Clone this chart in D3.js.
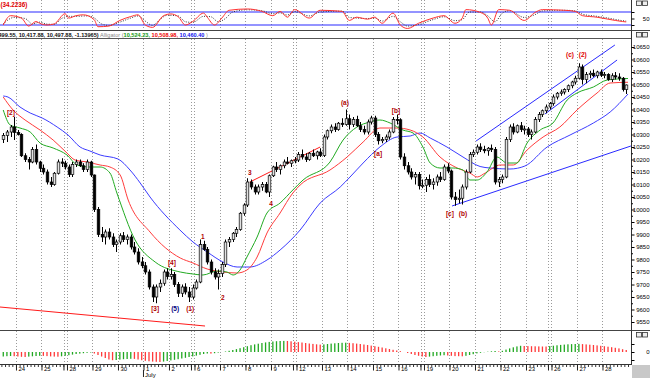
<!DOCTYPE html>
<meta charset="utf-8">
<title>DJIA hourly - Alligator</title>
<style>
body { margin: 0; background: #fff; }
svg { display: block; font-family: "Liberation Sans", Arial, sans-serif; }
</style>
<body>
<svg id="chart" width="650" height="378"></svg>
</body>
<script src="https://cdn.jsdelivr.net/npm/d3@7"></script>
<script>

// day labels on the time ruler (first 4 bars belong to Jun 23)
var dayLabels = ["24","25","28","29","30","1","2","6","7","8","9","12","13","14","15","16","19","20","21","22","23","26","27","28"];
var mondays = [2, 7, 11, 16, 21];

// hourly candles
var opens = [
  10280,10296,10310,10330,10308,10300,10215,10200,10190,10240,
  10190,10165,10150,10110,10100,10145,10190,10185,10170,10140,
  10180,10190,10175,10160,10190,10138,10000,9900,9890,9910,
  9890,9860,9870,9895,9880,9890,9850,9830,9790,9775,
  9750,9690,9650,9690,9705,9750,9732,9740,9700,9665,
  9690,9670,9650,9686,9710,9860,9840,9790,9750,9730,
  9744,9780,9870,9880,9905,9920,9985,10018,10110,10090,
  10070,10090,10100,10070,10135,10170,10160,10175,10190,10185,
  10195,10198,10220,10210,10200,10225,10215,10230,10216,10290,
  10315,10330,10320,10345,10340,10363,10340,10360,10335,10320,
  10310,10350,10366,10300,10275,10280,10290,10310,10360,10359,
  10210,10175,10150,10130,10140,10095,10097,10120,10100,10110,
  10130,10120,10170,10154,10050,10040,10045,10090,10150,10220,
  10229,10250,10240,10235,10245,10240,10110,10120,10130,10280,
  10330,10310,10335,10320,10322,10300,10310,10360,10380,10395,
  10410,10424,10450,10465,10470,10480,10495,10510,10525,10570,
  10520,10540,10545,10535,10550,10537,10540,10520,10535,10530,
  10525,10480];
var highs = [
  10306,10318,10338,10370,10318,10305,10225,10210,10250,10260,
  10195,10180,10160,10130,10150,10200,10205,10195,10180,10190,
  10200,10200,10185,10200,10195,10140,10010,9930,9920,9925,
  9905,9880,9905,9910,9900,9900,9870,9845,9810,9790,
  9760,9700,9700,9720,9760,9765,9765,9750,9710,9700,
  9705,9690,9700,9720,9880,9875,9850,9800,9765,9760,
  9790,9880,9890,9910,9930,9990,10025,10125,10120,10100,
  10100,10110,10110,10140,10175,10190,10180,10200,10210,10200,
  10210,10230,10240,10225,10230,10240,10235,10245,10300,10320,
  10340,10345,10350,10365,10400,10380,10370,10375,10350,10335,
  10360,10375,10375,10310,10290,10300,10320,10370,10380,10365,
  10225,10190,10165,10150,10150,10120,10130,10140,10125,10140,
  10150,10180,10185,10160,10070,10080,10100,10160,10230,10240,
  10260,10265,10255,10250,10260,10250,10130,10140,10290,10340,
  10345,10340,10350,10335,10330,10320,10370,10390,10400,10420,
  10430,10460,10470,10480,10485,10500,10515,10535,10585,10580,
  10550,10555,10560,10555,10560,10550,10545,10545,10550,10545,
  10530,10500];
var lows = [
  10266,10270,10290,10278,10296,10210,10190,10160,10185,10180,
  10150,10140,10100,10090,10095,10140,10170,10160,10130,10130,
  10170,10170,10150,10150,10130,9990,9890,9870,9860,9880,
  9850,9830,9860,9870,9860,9840,9820,9780,9765,9740,
  9680,9630,9625,9670,9695,9720,9720,9690,9650,9650,
  9660,9630,9640,9680,9705,9835,9780,9740,9720,9680,
  9730,9770,9850,9870,9890,9915,9975,10010,10080,10060,
  10060,10075,10065,10050,10130,10150,10140,10165,10180,10170,
  10185,10190,10200,10190,10195,10210,10200,10210,10210,10280,
  10305,10310,10315,10330,10335,10320,10330,10330,10310,10300,
  10300,10340,10290,10260,10265,10270,10280,10305,10340,10200,
  10160,10140,10120,10100,10080,10085,10070,10090,10080,10095,
  10110,10115,10145,10040,10015,10025,10020,10080,10145,10210,
  10220,10230,10225,10215,10230,10100,10090,10105,10125,10270,
  10300,10305,10310,10300,10290,10280,10305,10350,10370,10385,
  10400,10415,10440,10455,10460,10470,10485,10500,10520,10500,
  10505,10525,10530,10525,10530,10525,10515,10510,10520,10515,
  10472,10462];
var closes = [
  10296,10310,10330,10308,10300,10215,10200,10190,10240,10190,
  10165,10150,10110,10100,10145,10190,10185,10170,10140,10180,
  10190,10175,10160,10190,10138,10000,9900,9890,9910,9890,
  9860,9870,9895,9880,9890,9850,9830,9790,9775,9750,
  9690,9650,9690,9705,9750,9732,9740,9700,9665,9690,
  9670,9650,9686,9710,9860,9840,9790,9750,9730,9744,
  9780,9870,9880,9905,9920,9985,10018,10110,10090,10070,
  10090,10100,10070,10135,10170,10160,10175,10190,10185,10195,
  10198,10220,10210,10200,10225,10215,10230,10216,10290,10315,
  10330,10320,10345,10340,10363,10340,10360,10335,10320,10310,
  10350,10366,10300,10275,10280,10290,10310,10360,10359,10210,
  10175,10150,10130,10140,10095,10097,10120,10100,10110,10130,
  10120,10170,10154,10050,10040,10045,10090,10150,10220,10229,
  10250,10240,10235,10245,10240,10110,10120,10130,10280,10330,
  10310,10335,10320,10322,10300,10310,10360,10380,10395,10410,
  10424,10450,10465,10470,10480,10495,10510,10525,10570,10520,
  10540,10545,10535,10550,10537,10540,10520,10535,10530,10525,
  10480,10498];

// alligator lines, [bar, price]
var jaw = [[0,10454],[1.3,10450],[4.6,10410],[7.4,10386],[10.7,10366],[14.8,10330],[17.8,10298],[21.1,10250],[23.8,10234],[26.6,10218],[31.5,10202],[34.8,10158],[37.6,10106],[40.3,10050],[48.5,9918],[52.1,9870],[56,9830],[60.3,9790],[64.2,9770],[67.7,9770],[72.4,9798],[76,9838],[81.5,9918],[87,10026],[92.5,10090],[95.2,10130],[98.8,10186],[103.4,10250],[108.1,10290],[111.7,10294],[114.4,10306],[117.2,10286],[121.8,10250],[126.2,10210],[130.9,10172],[133.6,10166],[139.1,10162],[143.2,10174],[149.3,10250],[155.6,10298],[162,10346],[166.6,10390],[171.5,10462]];
var teeth = [[0,10450],[2.7,10398],[6,10358],[10.1,10318],[13.7,10278],[17.5,10226],[19.7,10198],[23,10190],[26.6,10178],[29.3,10170],[32.1,10138],[34.3,10038],[40.3,9910],[48.6,9806],[52.1,9786],[56,9762],[60.3,9750],[64.2,9746],[66.9,9758],[69.7,9810],[72.4,9906],[76,9986],[79.5,10066],[81.5,10098],[89.7,10158],[94.4,10210],[98.8,10270],[103.4,10326],[108.1,10326],[111.7,10318],[115.2,10290],[119.9,10210],[124.6,10166],[128.1,10146],[130.1,10130],[132.3,10146],[136.4,10178],[140,10178],[143.8,10238],[148.2,10290],[152.8,10330],[157.5,10398],[163,10466],[166.6,10506],[171.5,10509]];
var lips = [[0,10398],[1.9,10338],[4.6,10326],[7.4,10310],[10.1,10266],[13.7,10246],[17.5,10218],[20.3,10178],[23.8,10170],[26.6,10170],[29.3,10146],[31.2,10066],[36.2,9878],[41.7,9790],[48.6,9750],[52.1,9742],[54.8,9738],[58.7,9754],[61.4,9750],[63.1,9738],[65,9758],[66.9,9810],[69.7,9890],[72.4,9986],[76,10026],[79.5,10078],[82.3,10118],[89.7,10190],[93.3,10278],[97.1,10330],[100.7,10350],[103.4,10358],[106.2,10346],[109.7,10318],[112.5,10306],[115.2,10250],[117.2,10186],[119.9,10166],[123.5,10166],[126.2,10158],[128.1,10118],[130.1,10118],[132.8,10150],[135.5,10210],[138.3,10186],[141,10186],[143.8,10266],[147.4,10318],[150.9,10346],[154.8,10438],[157.5,10466],[162,10490],[165.8,10518],[171.5,10524]];

// drawn trend lines, [bar, price] end points
var redLines = [[[-0.9,9610],[55.4,9534]], [[67.7,10110],[87,10250]]];
var blueLines = [[[129.8,10274],[167.9,10658]], [[148.7,10382],[168.5,10598]], [[123.2,10014],[172.3,10254]]];

// wave labels [text, bar, price, colour]
var waves = [
  ["[2]",2.1,10390,"#b00000"], ["[3]",41.7,9606,"#b00000"], ["(5)",47.2,9606,"#000080"],
  ["(1)",51.3,9606,"#b00000"], ["[4]",46.3,9790,"#b00000"], ["1",54.8,9894,"#b00000"],
  ["2",60.3,9650,"#b00000"], ["3",67.7,10150,"#b00000"], ["4",73.5,10026,"#b00000"],
  ["(a)",93.8,10430,"#b00000"], ["[a]",102.9,10226,"#b00000"], ["[b]",107.8,10398,"#b00000"],
  ["[c]",122.6,9986,"#b00000"], ["(b)",126.2,9986,"#b00000"], ["(c)",155.6,10622,"#e00000"],
  ["(2)",159.1,10622,"#e00000"]];

// top oscillator, [bar, value]
var oscMain = [[0,20],[2,63],[5,52],[7,15],[9,36],[10,28],[12,20],[14,25],[17,72],[18,52],[20,63],[22,67],[25,44],[26,12],[29,15],[32,41],[35,59],[37,67],[39,20],[41,9],[44,63],[46,71],[48,59],[50,20],[52,36],[55,75],[56,56],[58,20],[60,52],[62,88],[67,94],[71,83],[74,63],[76,83],[78,56],[80,91],[84,52],[87,88],[93,83],[95,41],[97,56],[100,47],[102,56],[104,28],[107,75],[109,20],[111,4],[114,28],[118,52],[121,63],[124,28],[126,52],[127,91],[131,78],[133,52],[134,20],[136,91],[139,88],[143,41],[146,78],[148,91],[154,88],[157,83],[159,63],[163,56],[166,47],[170,36],[171,34.2]];
var oscSignal = [[0,25],[3,55],[6,50],[8,25],[10,33],[12,24],[14,23],[16,50],[18,60],[20,60],[23,62],[25,52],[27,25],[29,18],[32,33],[35,52],[37,62],[39,38],[41,18],[43,45],[45,65],[48,62],[50,35],[52,32],[55,60],[57,58],[59,35],[61,50],[63,80],[67,90],[71,86],[74,72],[76,76],[78,66],[80,82],[84,62],[87,80],[93,84],[95,55],[97,52],[100,50],[102,52],[104,38],[107,60],[109,35],[111,15],[114,22],[118,45],[121,58],[124,40],[126,45],[128,80],[131,80],[133,62],[135,35],[137,75],[139,86],[143,55],[146,68],[148,85],[154,88],[157,85],[159,70],[163,60],[166,52],[170,40],[171,38]];

// bottom histogram, one value per bar
var ao = [
  -4.5,-4.2,-4.0,-4.2,-4.5,-4.8,-5.0,-4.6,-4.3,-4.0,
  -3.8,-3.9,-4.1,-4.4,-4.6,-4.7,-4.3,-3.8,-3.2,-2.6,
  -2.0,-1.6,-1.2,-0.8,-0.5,-1.5,-3.0,-4.5,-6.0,-7.5,
  -8.2,-8.0,-7.6,-7.2,-7.0,-6.8,-6.9,-7.5,-8.2,-8.8,
  -9.3,-9.6,-9.8,-10.0,-9.6,-9.0,-8.4,-7.8,-7.2,-6.5,
  -5.8,-5.0,-4.4,-3.6,-2.8,-2.0,-1.5,-1.6,-1.2,-0.6,
  0.0,0.5,1.2,2.0,2.9,3.8,4.8,5.8,6.8,7.6,
  8.3,9.0,9.6,10.1,10.5,10.8,11.0,11.1,11.0,10.7,
  10.3,9.9,9.5,9.0,8.5,8.1,7.7,7.4,7.6,8.0,
  8.4,8.7,9.0,9.2,9.3,9.1,8.8,8.4,8.0,7.5,
  7.0,6.4,5.8,5.2,4.5,3.7,3.0,2.2,1.5,0.8,
  0.0,-1.0,-2.0,-3.0,-3.8,-4.5,-5.0,-4.6,-4.2,-3.8,
  -3.5,-3.2,-3.5,-3.8,-4.1,-4.2,-4.3,-3.8,-3.0,-2.2,
  -1.4,-0.8,-0.2,0.3,0.7,1.0,0.6,1.2,2.4,3.6,
  4.7,5.6,6.2,6.0,5.9,5.8,5.7,5.6,5.5,5.5,
  5.9,6.3,6.7,7.1,7.4,7.7,7.9,8.0,8.1,7.9,
  7.6,7.3,7.0,6.6,6.2,5.8,5.3,4.8,4.2,3.6,
  2.8,2.0];

var svg = d3.select("#chart");
var plotRight = 631;
var nBars = closes.length;

var x = d3.scaleLinear().domain([0, nBars]).range([1.4, 628]);
function cx(i) { return x(i + 0.5); }
var yTop = d3.scaleLinear().domain([20, 80]).range([25, 12]);
var yMain = d3.scaleLinear().domain([9550, 10650]).range([322, 47]);
var yAO = d3.scaleLinear().domain([-11, 11]).range([363, 341]);

var panels = [[0, 30], [39, 329.5], [331, 364]];
var defs = svg.append("defs");
panels.forEach(function(p, k) {
  defs.append("clipPath").attr("id", "clip" + k)
    .append("rect").attr("x", 0).attr("y", p[0]).attr("width", plotRight).attr("height", p[1] - p[0]);
});

// day separators
var seps = [];
dayLabels.forEach(function(d, k) {
  var sx = Math.round(x(4 + 7 * k)) + 0.5;
  seps.push(sx);
  if (mondays.indexOf(k) >= 0) seps.push(sx - 3);
});

panels.forEach(function(p) {
  svg.append("g").selectAll("line").data(seps).enter().append("line")
    .attr("x1", function(d) { return d; }).attr("x2", function(d) { return d; })
    .attr("y1", p[0]).attr("y2", p[1])
    .attr("stroke", "#9a9a9a").attr("stroke-dasharray", "1,2");
});

// ---- top panel
var gTop = svg.append("g").attr("clip-path", "url(#clip0)");
[20, 80].forEach(function(v) {
  gTop.append("line").attr("x1", 0).attr("x2", plotRight)
    .attr("y1", yTop(v)).attr("y2", yTop(v)).attr("stroke", "#2a2aff").attr("stroke-width", 1.2);
});
var oscLine = d3.line().x(function(d) { return cx(d[0]); }).y(function(d) { return yTop(d[1]); }).curve(d3.curveMonotoneX);
gTop.append("path").attr("d", oscLine(oscSignal)).attr("fill", "none")
  .attr("stroke", "#333").attr("stroke-dasharray", "1,1.5");
gTop.append("path").attr("d", oscLine(oscMain)).attr("fill", "none")
  .attr("stroke", "#ff3030").attr("stroke-width", 1);
svg.append("text").attr("x", 0.5).attr("y", 6.5).attr("font-size", 6.3).attr("font-weight", "bold")
  .attr("fill", "#e00000").text("(34.2236)");

// ---- main panel
var gMain = svg.append("g").attr("clip-path", "url(#clip1)");
var priceLine = d3.line().x(function(d) { return cx(d[0]); }).y(function(d) { return yMain(d[1]); }).curve(d3.curveMonotoneX);
[[jaw, "#3c3cff"], [teeth, "#ff3c3c"], [lips, "#22aa22"]].forEach(function(a) {
  gMain.append("path").attr("d", priceLine(a[0])).attr("fill", "none").attr("stroke", a[1]).attr("stroke-width", 1);
});

redLines.forEach(function(l) {
  gMain.append("line").attr("x1", cx(l[0][0])).attr("y1", yMain(l[0][1]))
    .attr("x2", cx(l[1][0])).attr("y2", yMain(l[1][1])).attr("stroke", "#ff1a1a").attr("stroke-width", 1);
});
blueLines.forEach(function(l) {
  gMain.append("line").attr("x1", cx(l[0][0])).attr("y1", yMain(l[0][1]))
    .attr("x2", cx(l[1][0])).attr("y2", yMain(l[1][1])).attr("stroke", "#2a2aff").attr("stroke-width", 1);
});

var bars = d3.range(nBars);
var candle = gMain.append("g").selectAll("g").data(bars).enter().append("g");
candle.append("line")
  .attr("x1", function(i) { return Math.round(cx(i)) + 0.5; })
  .attr("x2", function(i) { return Math.round(cx(i)) + 0.5; })
  .attr("y1", function(i) { return yMain(highs[i]); })
  .attr("y2", function(i) { return yMain(lows[i]); })
  .attr("stroke", "#000");
candle.append("rect")
  .attr("x", function(i) { return Math.round(cx(i)) - 0.8; })
  .attr("width", 2.6)
  .attr("y", function(i) { return yMain(Math.max(opens[i], closes[i])); })
  .attr("height", function(i) { return Math.max(1, Math.abs(yMain(opens[i]) - yMain(closes[i]))); })
  .attr("fill", function(i) { return closes[i] >= opens[i] ? "#e2e2e2" : "#000"; })
  .attr("stroke", "#000").attr("stroke-width", 0.7);

gMain.append("g").selectAll("text").data(waves).enter().append("text")
  .attr("x", function(d) { return cx(d[1]); })
  .attr("y", function(d) { return yMain(d[2]) + 2.5; })
  .attr("text-anchor", "middle").attr("font-size", 6.5).attr("font-weight", "bold")
  .attr("fill", function(d) { return d[3]; })
  .text(function(d) { return d[0]; });

var head = svg.append("text").attr("x", -1.5).attr("y", 36.5).attr("font-size", 5.6).attr("font-weight", "bold");
head.append("tspan").attr("fill", "#111").text("499.55, 10,417.88, 10,497.88, -1.13965)");
head.append("tspan").attr("fill", "#8a8a8a").attr("font-weight", "normal").text(" Alligator (");
head.append("tspan").attr("fill", "#119911").text("10,524.23, ");
head.append("tspan").attr("fill", "#ee0000").text("10,508.98, ");
head.append("tspan").attr("fill", "#1111ee").text("10,460.40");
head.append("tspan").attr("fill", "#8a8a8a").attr("font-weight", "normal").text(" )");

// ---- bottom panel
var gBot = svg.append("g").attr("clip-path", "url(#clip2)");
gBot.selectAll("rect").data(bars).enter().append("rect")
  .attr("x", function(i) { return cx(i) - 0.6; })
  .attr("width", 1.3)
  .attr("y", function(i) { return Math.min(yAO(0), yAO(ao[i])); })
  .attr("height", function(i) { return Math.abs(yAO(ao[i]) - yAO(0)); })
  .attr("fill", function(i) { return (i === 0 || ao[i] > ao[i - 1]) ? "#22a822" : "#ff3a3a"; });

// ---- frame lines
function hline(y, x1, x2, c) {
  svg.append("line").attr("x1", x1).attr("x2", x2).attr("y1", y).attr("y2", y).attr("stroke", c);
}
hline(30.5, 0, 650, "#444");
hline(38.5, 0, plotRight, "#555");
hline(330.5, 0, 650, "#444");
hline(364.5, 0, plotRight, "#333");
svg.append("line").attr("x1", plotRight + 0.5).attr("x2", plotRight + 0.5).attr("y1", 0).attr("y2", 365).attr("stroke", "#333");

// ---- right axes
function styleAxis(g) {
  g.select(".domain").remove();
  g.selectAll("text").attr("text-anchor", "end").attr("x", 18).attr("font-size", 6).attr("fill", "#000");
}
svg.append("g").attr("transform", "translate(" + (plotRight + 0.5) + ",0)")
  .call(d3.axisRight(yMain).tickValues(d3.range(9550, 10651, 50)).tickSize(3).tickFormat(d3.format("d")))
  .call(styleAxis);
svg.append("g").attr("transform", "translate(" + (plotRight + 0.5) + ",0)")
  .call(d3.axisRight(yMain).tickValues(d3.range(9575, 10650, 50)).tickSize(1.5).tickFormat(""))
  .call(styleAxis);
svg.append("g").attr("transform", "translate(" + (plotRight + 0.5) + ",0)")
  .call(d3.axisRight(yTop).tickValues([20, 50, 80]).tickSize(3).tickFormat(function(d) { return d === 50 ? "50" : ""; }))
  .call(styleAxis);
svg.append("g").attr("transform", "translate(" + (plotRight + 0.5) + ",0)")
  .call(d3.axisRight(yAO).tickValues([-8, 0, 8]).tickSize(3).tickFormat(function(d) { return d === 0 ? "0" : ""; }))
  .call(styleAxis);

// panel buttons
[0.5, 32, 332].forEach(function(y) {
  [636, 642].forEach(function(bx) {
    svg.append("rect").attr("x", bx + 0.5).attr("y", y + 0.5).attr("width", 5).attr("height", 4.5)
      .attr("fill", "#eee").attr("stroke", "#333").attr("stroke-width", 0.8);
  });
});

// ---- time ruler
var gx = svg.append("g").attr("transform", "translate(0,364.5)");
gx.call(d3.axisBottom(x).tickValues(d3.range(0, nBars + 1)).tickSize(2.5).tickFormat(""));
gx.select(".domain").remove();
gx.selectAll("line").attr("stroke", "#333");
var gd = svg.append("g").attr("transform", "translate(0,364.5)");
gd.call(d3.axisBottom(x).tickValues(dayLabels.map(function(d, k) { return 4 + 7 * k; }))
  .tickSize(6).tickFormat(function(d) { return dayLabels[(d - 4) / 7]; }));
gd.select(".domain").remove();
gd.selectAll("line").attr("stroke", "#222");
gd.selectAll("text").attr("text-anchor", "start").attr("x", 2).attr("y", 2.5).attr("dy", "0.71em")
  .attr("font-size", 6).attr("fill", "#000");
mondays.forEach(function(k) {
  var sx = x(4 + 7 * k) - 3;
  svg.append("line").attr("x1", sx).attr("x2", sx).attr("y1", 364.5).attr("y2", 370.5).attr("stroke", "#222");
});
var julyX = x(4 + 7 * 5);
svg.append("line").attr("x1", julyX).attr("x2", julyX).attr("y1", 370).attr("y2", 377).attr("stroke", "#222");
svg.append("text").attr("x", julyX + 1.5).attr("y", 377).attr("font-size", 6).text("July");

svg.append("rect").attr("x", 632).attr("y", 365).attr("width", 18).attr("height", 13).attr("fill", "#c8c8c8");

</script>
